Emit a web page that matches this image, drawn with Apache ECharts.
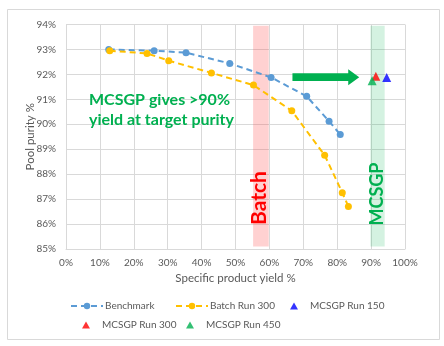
<!DOCTYPE html>
<html>
<head>
<meta charset="utf-8">
<script src="https://cdn.jsdelivr.net/npm/echarts@6/dist/echarts.min.js"></script>
<style>
  html, body { margin: 0; padding: 0; background: #fff; }
  #chart { width: 444px; height: 346px; }
</style>
</head>
<body>
<div id="chart"></div>
<script>
// Specific product yield (%) and pool purity (%) for each process
const benchmarkYield  = [12.6, 26.0, 35.4, 48.3, 60.5, 71.0, 77.6, 80.9];
const benchmarkPurity = [93.0, 92.95, 92.87, 92.44, 91.88, 91.12, 90.12, 89.59];

const batchYield  = [12.9, 23.9, 30.3, 42.9, 55.3, 66.6, 76.3, 81.5, 83.3];
const batchPurity = [92.95, 92.84, 92.55, 92.06, 91.57, 90.54, 88.76, 87.26, 86.70];

const mcsgp150 = [94.6, 91.88];
const mcsgp300 = [91.4, 91.93];
const mcsgp450 = [90.3, 91.74];

// Operating windows (yield ranges) and the improvement arrow
const batchWindow = [55.2, 59.8];
const mcsgpWindow = [89.8, 94.0];
const arrowSpan = [66.8, 86.5, 91.89];

const xTicks = { min: 0, max: 100, step: 10 };
const yTicks = { min: 85, max: 94, step: 1 };

const font = 'Lato, "Liberation Sans", sans-serif';
const grey = '#595959';

function pairs(xs, ys) { return xs.map((x, i) => [x, ys[i]]); }

const chart = echarts.init(document.getElementById('chart'));

function lineLegend(name, left, top) {
  return {
    left: left, top: top, padding: 0, itemGap: 0,
    itemWidth: 32, itemHeight: 8,
    data: [name],
    textStyle: { fontFamily: font, fontSize: 10, color: grey, padding: [0, 0, 0, -3] }
  };
}
function triLegend(name, left, top) {
  return {
    left: left, top: top, padding: 0, itemGap: 0,
    itemWidth: 8, itemHeight: 7,
    data: [{ name: name, icon: 'triangle' }],
    textStyle: { fontFamily: font, fontSize: 10, color: grey, padding: [0, 0, 0, 7] }
  };
}

chart.setOption({
  animation: false,
  backgroundColor: '#fff',
  grid: { left: 66, right: 39, top: 24.5, bottom: 97 },
  xAxis: {
    type: 'value', min: xTicks.min, max: xTicks.max, interval: xTicks.step,
    name: 'Specific product yield %', nameLocation: 'middle', nameGap: 23,
    nameMoveOverlap: false,
    nameTextStyle: { fontFamily: font, fontSize: 11.5, color: grey },
    axisLine: { show: true, lineStyle: { color: '#d9d9d9' } },
    axisTick: { show: false },
    axisLabel: { formatter: '{value}%', fontFamily: font, fontSize: 10, color: grey, margin: 9 },
    splitLine: { show: true, lineStyle: { color: '#d9d9d9' } }
  },
  yAxis: {
    type: 'value', min: yTicks.min, max: yTicks.max, interval: yTicks.step,
    name: 'Pool purity %', nameLocation: 'middle', nameGap: 30,
    nameMoveOverlap: false,
    nameTextStyle: { fontFamily: font, fontSize: 11.5, color: grey },
    axisLine: { show: true, lineStyle: { color: '#d9d9d9' } },
    axisTick: { show: false },
    axisLabel: { formatter: '{value}%', fontFamily: font, fontSize: 10, color: grey, margin: 10 },
    splitLine: { show: true, lineStyle: { color: '#d9d9d9' } }
  },
  legend: [
    lineLegend('Benchmark', 70, 301),
    lineLegend('Batch Run 300', 175, 301),
    triLegend('MCSGP Run 150', 290, 301),
    triLegend('MCSGP Run 300', 82, 320),
    triLegend('MCSGP Run 450', 186, 320)
  ],
  graphic: [
    { type: 'rect', shape: { x: 7.5, y: 9.5, width: 432, height: 330 },
      style: { fill: 'none', stroke: '#d9d9d9', lineWidth: 1 }, z: -10, silent: true },
    { type: 'text', left: 89, top: 90, z: 100,
      style: { text: 'MCSGP gives >90%\nyield at target purity', fill: '#00b050',
               font: 'bold 16px ' + font, lineHeight: 20 } },
    { type: 'text', x: 259, y: 198, rotation: Math.PI / 2, z: 100,
      style: { text: 'Batch', fill: '#ff0000', font: 'bold 21px ' + font,
               align: 'center', verticalAlign: 'middle' } },
    { type: 'text', x: 377, y: 194, rotation: Math.PI / 2, z: 100,
      style: { text: 'MCSGP', fill: '#00b050', font: 'bold 18px ' + font,
               align: 'center', verticalAlign: 'middle' } }
  ],
  series: [
    {
      name: 'windows', type: 'line', data: [], z: 1, silent: true,
      markArea: {
        silent: true,
        data: [
          [{ xAxis: batchWindow[0], yAxis: 85.1, itemStyle: { color: 'rgba(255,70,70,0.25)' } },
           { xAxis: batchWindow[1], yAxis: 93.95 }],
          [{ xAxis: mcsgpWindow[0], yAxis: 85.1, itemStyle: { color: 'rgba(0,176,80,0.17)' } },
           { xAxis: mcsgpWindow[1], yAxis: 93.95 }]
        ]
      }
    },
    {
      name: 'Benchmark', type: 'line', z: 3,
      data: pairs(benchmarkYield, benchmarkPurity),
      symbol: 'circle', symbolSize: 7,
      itemStyle: { color: '#5b9bd5' },
      lineStyle: { color: '#5b9bd5', width: 2, type: [6, 4] }
    },
    {
      name: 'Batch Run 300', type: 'line', z: 3,
      data: pairs(batchYield, batchPurity),
      symbol: 'circle', symbolSize: 7,
      itemStyle: { color: '#ffc000' },
      lineStyle: { color: '#ffc000', width: 2, type: [6, 4] }
    },
    {
      name: 'MCSGP Run 150', type: 'scatter', z: 4, data: [mcsgp150],
      symbol: 'triangle', symbolSize: 9, itemStyle: { color: '#0000ff' }
    },
    {
      name: 'MCSGP Run 300', type: 'scatter', z: 4, data: [mcsgp300],
      symbol: 'triangle', symbolSize: 9, itemStyle: { color: '#ff0000' }
    },
    {
      name: 'MCSGP Run 450', type: 'scatter', z: 4, data: [mcsgp450],
      symbol: 'triangle', symbolSize: 9, itemStyle: { color: '#00b050' }
    },
    {
      name: 'arrow', type: 'custom', z: 5, silent: true,
      data: [arrowSpan],
      encode: { x: [0, 1], y: 2 },
      renderItem: function (params, api) {
        const a = api.coord([api.value(0), api.value(2)]);
        const b = api.coord([api.value(1), api.value(2)]);
        const shaft = 3.8, head = 8, headLen = 11;
        const neck = b[0] - headLen;
        return {
          type: 'polygon',
          shape: { points: [
            [a[0], a[1] - shaft], [neck, a[1] - shaft], [neck, a[1] - head],
            [b[0], b[1]], [neck, a[1] + head], [neck, a[1] + shaft], [a[0], a[1] + shaft]
          ] },
          style: { fill: '#00b050' }
        };
      }
    }
  ]
});
</script>
</body>
</html>
